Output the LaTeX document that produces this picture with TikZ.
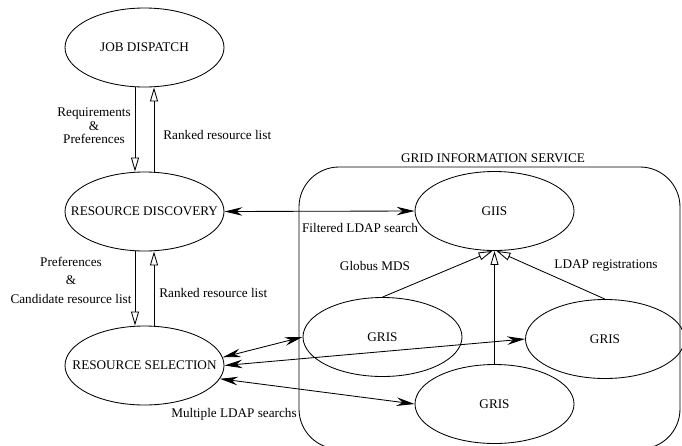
\documentclass[tikz,border=0pt]{standalone}
\usepackage{fontspec}
\setmainfont{Liberation Serif}
\usetikzlibrary{arrows.meta,shapes.geometric}
% centred text of zero width, so the ellipse size comes from its minimum sizes only
\newcommand\nodetext[1]{\makebox[0pt][c]{#1}}
\begin{document}
\begin{tikzpicture}[x=1pt,y=-1pt,
  font=\fontsize{13.2}{13.5}\selectfont,
  line width=0.85pt,
  ell/.style={draw,ellipse,minimum width=159pt,minimum height=79pt,inner sep=0pt},
  lbl/.style={inner sep=0pt,align=center},
  openarr/.style={-{Triangle[open,length=14pt,width=8pt]}},
  twoway/.style={{Stealth[length=18pt,width=8.5pt,inset=6pt]}-{Stealth[length=18pt,width=8.5pt,inset=6pt]}}]
\useasboundingbox (0,0) rectangle (682,445);
\clip (0,0) rectangle (682,445);

% grid information service container
\draw[rounded corners=40pt] (299,167) rectangle (680,449);
\node[lbl] (gistitle) at (493,158) {GRID INFORMATION SERVICE};

% main nodes
\node[ell] (jd) at (144.5,47.5) {\nodetext{JOB DISPATCH}};
\node[ell] (rd) at (144.5,211.5) {\nodetext{RESOURCE DISCOVERY}};
\node[ell] (rs) at (144.5,365.5) {\nodetext{RESOURCE SELECTION}};
\node[ell] (giis) at (494.5,211) {\nodetext{GIIS}};
\node[ell] (g1) at (382.5,337) {\nodetext{GRIS}};
\node[ell] (g2) at (605,339) {\nodetext{GRIS}};
\node[ell] (g3) at (494.5,404) {\nodetext{GRIS}};

% job dispatch <-> resource discovery
\draw[openarr] ([xshift=-9.5pt]jd.south) -- ([xshift=-9.5pt]rd.north);
\draw[openarr] ([xshift=9.5pt]rd.north) -- ([xshift=9.5pt]jd.south);
\node[lbl] (req) at (94,126) {Requirements\\\&\\Preferences};
\node[lbl,anchor=west] (rank1) at (163,135) {Ranked resource list};

% resource discovery <-> resource selection
\draw[openarr] ([xshift=-9.5pt]rd.south) -- ([xshift=-9.5pt]rs.north);
\draw[openarr] ([xshift=9.5pt]rs.north) -- ([xshift=9.5pt]rd.south);
\node[lbl,font=\fontsize{13.2}{18.5}\selectfont] (pref) at (71,280) {Preferences\\\&\\Candidate resource list};
\node[lbl,anchor=west] (rank2) at (159,293) {Ranked resource list};

% discovery queries the index
\draw[twoway] (rd.east) -- (giis.west);
\node[lbl] (filt) at (360,228) {Filtered LDAP search};

% registrations of the resource servers with the index
\draw[openarr] (g1.north) -- ([xshift=-2pt]giis.south);
\draw[openarr] (g3.north) -- (giis.south);
\draw[openarr] (g2.north) -- ([xshift=2pt]giis.south);
\node[lbl] (mds) at (375,266) {Globus MDS};
\node[lbl] (reg) at (606,266) {LDAP registrations};

% selection queries each resource server
\draw[twoway] (rs.6.5) -- (g1.west);
\draw[twoway] (rs.east) -- (g2.west);
\draw[twoway] (rs.350) -- (g3.west);
\node[lbl] (multi) at (234,414) {Multiple LDAP searchs};
\end{tikzpicture}
\end{document}
